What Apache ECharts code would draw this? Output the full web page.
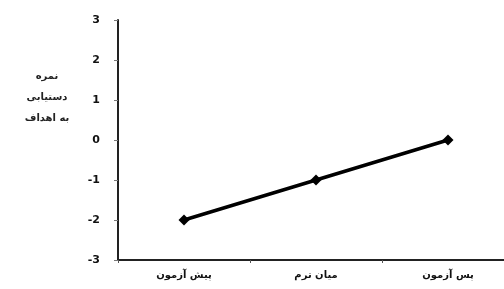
<!DOCTYPE html>
<html>
<head>
<meta charset="utf-8">
<script src="https://cdn.jsdelivr.net/npm/echarts@6/dist/echarts.min.js"></script>
<style>
  html, body { margin: 0; padding: 0; background: #fff; }
  #chart { width: 504px; height: 289px; }
</style>
</head>
<body>
<div id="chart"></div>
<script>
var categories = ["پیش آزمون", "میان ترم", "پس آزمون"];
var scores = [-2, -1, 0];
var yNameLines = ["نمره", "دستیابی", "به اهداف"];

var nameFont = "bold 10px 'DejaVu Sans'";
var nameTexts = yNameLines.map(function (t, i) {
  return {
    type: "text",
    x: 47,
    y: 76 + i * 21,
    style: { text: t, font: nameFont, fill: "#222", align: "center", verticalAlign: "middle" }
  };
});

var chart = echarts.init(document.getElementById("chart"));
chart.setOption({
  animation: false,
  graphic: nameTexts,
  grid: { left: 118, right: -10, top: 20, bottom: 29, outerBoundsMode: "none", containLabel: false },
  xAxis: {
    type: "category",
    data: categories,
    axisLine: { onZero: false, lineStyle: { color: "#222", width: 2 } },
    axisTick: { show: true, length: 3, lineStyle: { color: "#555" } },
    axisLabel: { color: "#111", fontWeight: "bold", fontSize: 10, fontFamily: "DejaVu Sans", margin: 10 }
  },
  yAxis: {
    type: "value",
    min: -3,
    max: 3,
    interval: 1,
    splitLine: { show: false },
    axisLine: { show: true, lineStyle: { color: "#222", width: 2 } },
    axisTick: { show: true, length: 4, lineStyle: { color: "#777" } },
    axisLabel: { color: "#111", fontWeight: "bold", fontSize: 11, fontFamily: "DejaVu Sans", margin: 18 }
  },
  series: [
    {
      type: "line",
      data: scores,
      symbol: "diamond",
      symbolSize: 11,
      lineStyle: { color: "#000", width: 3.5 },
      itemStyle: { color: "#000" }
    }
  ]
});
</script>
</body>
</html>
